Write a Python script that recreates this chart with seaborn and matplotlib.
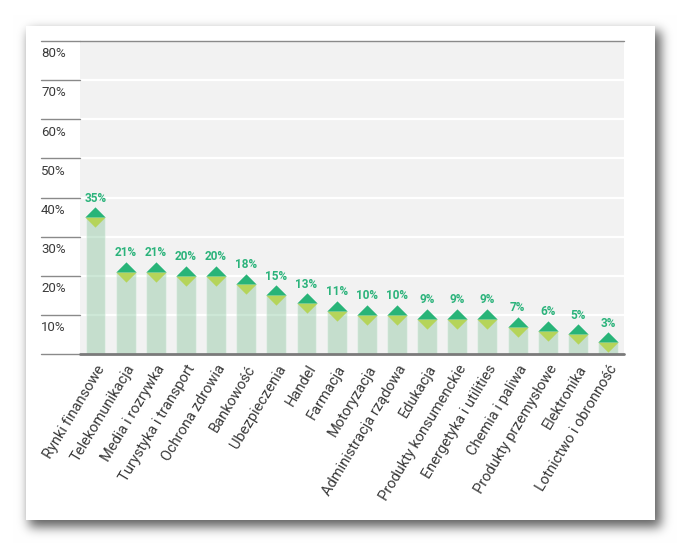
import numpy as np
import pandas as pd
import matplotlib
matplotlib.use("Agg")
import matplotlib.pyplot as plt
from matplotlib.path import Path
import seaborn as sns

categories = [
    "Rynki finansowe", "Telekomunikacja", "Media i rozrywka", "Turystyka i transport",
    "Ochrona zdrowia", "Bankowość", "Ubezpieczenia", "Handel", "Farmacja",
    "Motoryzacja", "Administracja rządowa", "Edukacja", "Produkty konsumenckie",
    "Energetyka i utilities", "Chemia i paliwa", "Produkty przemysłowe",
    "Elektronika", "Lotnictwo i obronność",
]
values = [35, 21, 21, 20, 20, 18, 15, 13, 11, 10, 10, 9, 9, 9, 7, 6, 5, 3]
y_ticks = [10, 20, 30, 40, 50, 60, 70, 80]

df = pd.DataFrame({"sektor": categories, "udzial": values})

sns.set_theme(style="white")
plt.rcParams["font.family"] = ["Roboto", "DejaVu Sans"]

W, H = 681, 546
fig = plt.figure(figsize=(W / 100, H / 100), dpi=100)
fig.patch.set_facecolor("white")

# card with a soft drop shadow (background picture)
def blur(a, sigma):
    r = int(sigma * 3)
    k = np.exp(-0.5 * (np.arange(-r, r + 1) / sigma) ** 2)
    k /= k.sum()
    a = np.apply_along_axis(lambda v: np.convolve(v, k, mode="same"), 0, a)
    a = np.apply_along_axis(lambda v: np.convolve(v, k, mode="same"), 1, a)
    return a

shadow = np.zeros((H, W))
shadow[31:527, 29:661] = 1.0
shadow = blur(shadow, 5.5) * 0.62
img = np.ones((H, W, 4))
img[..., :3] = (1 - shadow)[..., None]
img[26:520, 26:655, :3] = 1.0
fig.figimage(img, xo=0, yo=0, origin="upper", zorder=-1)

left, right, top, bottom = 80, 624, 41, 354
ax = fig.add_axes([left / W, 1 - bottom / H, (right - left) / W, (bottom - top) / H])
ax.set_facecolor("#f2f2f2")

for y in y_ticks[:-1]:
    ax.axhline(y, color="white", lw=1.6, zorder=0.5)

sns.barplot(data=df, x="sektor", y="udzial", color="#66b681", alpha=0.32,
            width=0.66, saturation=1, ax=ax, zorder=1)

up = Path([(-1, 0), (1, 0), (0, 1), (-1, 0)], [1, 2, 2, 79])
down = Path([(-1, 0), (1, 0), (0, -1), (-1, 0)], [1, 2, 2, 79])
xs = np.arange(len(values))
ax.plot(xs, values, ls="none", marker=down, ms=14.6, mfc="#b5d45a", mec="none", zorder=3, clip_on=False)
ax.plot(xs, values, ls="none", marker=up, ms=14.6, mfc="#28b478", mec="none", zorder=4, clip_on=False)

for x, v in zip(xs, values):
    ax.annotate(f"{v}%", (x, v), xytext=(0, 9), textcoords="offset points",
                ha="center", va="bottom", fontsize=8.5, fontweight="semibold",
                color="#2bb37b", zorder=5)

ax.set_xlim(-0.514, 17.53)
ax.set_ylim(0, 80)
ax.set_yticks([])
ax.set_xlabel("")
ax.set_ylabel("")
for s in ax.spines.values():
    s.set_visible(False)

ax.set_xticks(xs)
ax.set_xticklabels(categories, rotation=59, ha="right", rotation_mode="anchor",
                   fontsize=10.5, color="#3a3a3a")
ax.tick_params(axis="x", length=0, pad=6)

# y labels and grey stubs to the left of the plot
trans = ax.get_yaxis_transform()
stub = -(left - 41) / (right - left)
for y in y_ticks:
    ax.plot([stub, 0], [y, y], color="#8a8a8a", lw=1, transform=trans, clip_on=False, zorder=2)
    ax.text(stub, y - 1.6, f"{y}%", transform=trans, ha="left", va="top",
            fontsize=9.5, color="#3a3a3a")
ax.plot([0, 1], [80, 80], color="#8a8a8a", lw=1, transform=trans, clip_on=False, zorder=2)
ax.plot([stub, 0], [0, 0], color="#8a8a8a", lw=1, transform=trans, clip_on=False, zorder=2)
ax.plot([0, 1], [0, 0], color="#7a7a7a", lw=2, transform=trans, clip_on=False, zorder=2)

fig.savefig("out.png", dpi=100)
